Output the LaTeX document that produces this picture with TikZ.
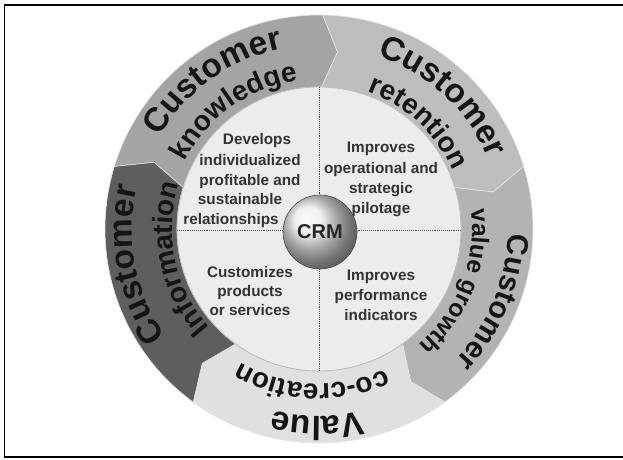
\documentclass[tikz,border=0pt]{standalone}
\usepackage{fontspec}
\setmainfont{Liberation Sans}
\usetikzlibrary{decorations.text}
\definecolor{knowc}{HTML}{A4A4A4}
\definecolor{retc}{HTML}{BDBDBD}
\definecolor{growc}{HTML}{B3B3B3}
\definecolor{cocc}{HTML}{E0E0E0}
\definecolor{infoc}{HTML}{5E5E5E}
\definecolor{innerc}{HTML}{ECECEC}
\definecolor{txtc}{HTML}{333333}
\definecolor{ringtxt}{HTML}{151515}
\newcommand\bigA{\bfseries\fontsize{33.5}{33.5}\selectfont\color{ringtxt}}
\newcommand\bigB{\bfseries\fontsize{30}{30}\selectfont\color{ringtxt}}
\newcommand\midA{\bfseries\fontsize{28}{28}\selectfont\color{ringtxt}}
\newcommand\midB{\bfseries\fontsize{24.5}{24.5}\selectfont\color{ringtxt}}
\newcommand\ringseg[3]{%
  \fill[#3, draw=white!80!gray, line width=0.6pt]
    ([shift={(319,230)}]#1:214) arc[start angle=#1, end angle=#2, radius=214]
    -- ([shift={(319,230)}]#2-5:178)
    -- ([shift={(319,230)}]#2:142) arc[start angle=#2, end angle=#1, radius=142]
    -- ([shift={(319,230)}]#1-5:178) -- cycle;}
\newcommand\arctext[4]{%
  \path[decorate, decoration={text along path, text align=center, text={|#1|#2}}]
    ([shift={(319,230)}]#4+75:#3) arc[start angle=#4+75, end angle=#4-75, radius=#3];}
\tikzset{
  frameline/.style={line width=1.5pt, black},
  dotline/.style={densely dotted, line width=0.9pt, gray!60!black},
  inner/.style={font=\bfseries\fontsize{15.3}{15.3}\selectfont, text=txtc, anchor=base, inner sep=0pt},
  crmball/.style={circle, minimum size=74pt, inner sep=0pt, ball color=gray!16, draw=gray!60!black, line width=0.6pt,
    font=\bfseries\fontsize{20}{20}\selectfont, text=black!85}
}
\begin{document}
\begin{tikzpicture}[x=1pt,y=1pt]
\useasboundingbox (0,0) rectangle (623,459);
% frame
\coordinate (ftr) at (623,454);
\coordinate (ftl) at (4.5,454);
\coordinate (fbl) at (4.5,2);
\coordinate (fbr) at (623,2);
\draw[frameline] (ftr) -- (ftl) -- (fbl) -- (fbr);
% ring segments (clockwise arrows)
\ringseg{163}{89}{knowc}
\ringseg{89}{17}{retc}
\ringseg{17}{-54}{growc}
\ringseg{-54}{-126}{cocc}
\ringseg{-126}{-197}{infoc}
% inner disc
\coordinate (C) at (319,230);
\fill[innerc, draw=gray!55, line width=0.8pt] (C) circle[radius=142];
% ring texts
\arctext{\bigA}{Customer}{184}{125.7}
\arctext{\midA}{knowledge}{150}{125.7}
\arctext{\bigA}{Customer}{183}{47}
\arctext{\midA}{retention}{146}{47}
\arctext{\bigB}{Customer}{189}{-22.7}
\arctext{\midB}{value growth}{153}{-21}
\arctext{\bigA}{Value}{187}{-90.5}
\arctext{\midA}{co-creation}{155}{-92.6}
\arctext{\bigA}{Customer}{187}{191}
\arctext{\midA}{Information}{147}{192}
% dotted cross
\coordinate (vt) at (319,372);
\coordinate (vb) at (319,88);
\coordinate (hl) at (177,229);
\coordinate (hr) at (461,229);
\draw[dotline] (vt) -- (vb);
\draw[dotline] (hl) -- (hr);
% quadrant texts
\node[inner] (tl1) at (257,315) {Develops};
\node[inner] (tl2) at (250,294) {individualized};
\node[inner] (tl3) at (250,274) {profitable and};
\node[inner] (tl4) at (240,255) {sustainable};
\node[inner] (tl5) at (231,235) {relationships};
\node[inner] (tr1) at (381,307) {Improves};
\node[inner] (tr2) at (381,286) {operational and};
\node[inner] (tr3) at (381,266) {strategic};
\node[inner] (tr4) at (381,246) {pilotage};
\node[inner] (bl1) at (250,182) {Customizes};
\node[inner] (bl2) at (250,163) {products};
\node[inner] (bl3) at (250,144) {or services};
\node[inner] (br1) at (381,179) {Improves};
\node[inner] (br2) at (381,159) {performance};
\node[inner] (br3) at (381,139) {indicators};
% CRM ball
\node[crmball] (crm) at (320,227) {CRM};
\end{tikzpicture}
\end{document}
